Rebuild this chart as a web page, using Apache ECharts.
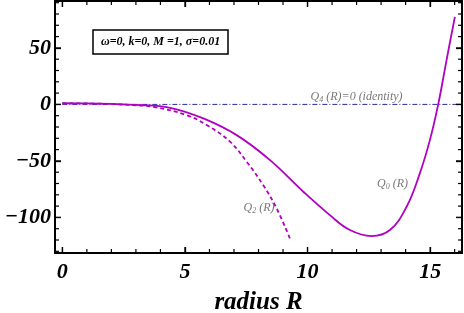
<!DOCTYPE html>
<html><head><meta charset="utf-8">
<script src="https://cdn.jsdelivr.net/npm/echarts@6/dist/echarts.min.js"></script>
<style>html,body{margin:0;padding:0;background:#fff}#c{width:464px;height:313px}</style>
</head><body><div id="c"></div>
<script>
// ---- data ----
const q0X = [0,1,2,3,4.39,5.75,7.11,8.47,9.83,10.91,11.73,12.61,13.36,14.04,14.58,14.99,15.33,15.67,16.01];
const q0Y = [1,0.9,0.4,-0.5,-3,-12.4,-27.2,-49.3,-77.3,-98,-111.2,-116.5,-111.2,-90.6,-61,-31.6,0,39.2,77.5];
const q2X = [0,1,2,3,3.71,5.07,5.89,6.84,7.52,8.19,8.74,9.28];
const q2Y = [1,0.8,0.3,-0.8,-2.1,-9.5,-18.3,-33,-50.8,-71.4,-92,-118.6];
const q4X = [0,16.2];
const q4Y = [0,0];
const xMajor = [0,5,10,15];
const xMinor = [1,2,3,4,6,7,8,9,11,12,13,14,16];
const yMajor = [-100,-50,0,50];
const yMinor = [-130,-120,-110,-90,-80,-70,-60,-40,-30,-20,-10,10,20,30,40,60,70,80,90];
const xRange = [-0.3,16.3];
const yRange = [-131.5,91.5];
const legendText = 'ω=0, k=0, M =1, σ=0.01';
const annQ4 = {pos:[12.0,6.7], sub:'4', rest:' (R)=0 (identity)'};
const annQ0 = {pos:[13.47,-70.5], sub:'0', rest:' (R)'};
const annQ2 = {pos:[8.02,-91.5], sub:'2', rest:' (R)'};

const zip = (a,b)=>a.map((v,i)=>[v,b[i]]);
const mag = '#b000c0';
const font = 'Liberation Serif';
const minus = v => String(v).replace('-', '\u2212');
const lblStyle = {color:'#000', fontFamily:font, fontStyle:'italic', fontWeight:'bold', fontSize:22, formatter:minus};
const G = {left:55, right:2, top:1, bottom:60};
const plotW = 464 - G.left - G.right, plotH = 313 - G.top - G.bottom;

function xAx(pos, label){
  return {type:'value', position:pos, min:xRange[0], max:xRange[1],
    axisLine:{show:true, onZero:false, lineStyle:{color:'#000', width:2}},
    axisTick:{show:true, inside:true, length:6, customValues:xMajor, lineStyle:{color:'#000', width:1.3}},
    axisLabel:Object.assign({show:label, customValues:xMajor, margin:8}, lblStyle),
    splitLine:{show:false}};
}
function yAx(pos, label){
  return {type:'value', position:pos, min:yRange[0], max:yRange[1],
    axisLine:{show:true, onZero:false, lineStyle:{color:'#000', width:2}},
    axisTick:{show:true, inside:true, length:6, customValues:yMajor, lineStyle:{color:'#000', width:1.3}},
    axisLabel:Object.assign({show:label, customValues:yMajor, margin:4}, lblStyle),
    splitLine:{show:false}};
}
const xA0 = xAx('bottom', true);
xA0.name = 'radius R'; xA0.nameLocation='middle'; xA0.nameGap=37;
xA0.nameTextStyle = {color:'#000', fontFamily:font, fontStyle:'italic', fontWeight:'bold', fontSize:25};

// inward frame ticks as short line segments, drawn through the axes' scales
const dxPx = (xRange[1]-xRange[0]) / plotW, dyPx = (yRange[1]-yRange[0]) / plotH;
function tickLines(vals, side, px){
  return vals.map(v => {
    let d;
    if (side === 'bottom') d = [[v, yRange[0]], [v, yRange[0] + px*dyPx]];
    if (side === 'top')    d = [[v, yRange[1]], [v, yRange[1] - px*dyPx]];
    if (side === 'left')   d = [[xRange[0], v], [xRange[0] + px*dxPx, v]];
    if (side === 'right')  d = [[xRange[1], v], [xRange[1] - px*dxPx, v]];
    return {type:'line', data:d, showSymbol:false, silent:true, clip:false, z:5,
      lineStyle:{color:'#000', width:1.2}};
  });
}

function ann(a){
  return {type:'scatter', symbolSize:0, silent:true, data:[a.pos],
    label:{show:true, position:'inside', formatter:'{q|Q}{s|'+a.sub+'}{t|'+a.rest+'}',
      rich:{q:{fontFamily:font, fontStyle:'italic', fontSize:12, color:'#555'},
            s:{fontFamily:font, fontStyle:'italic', fontSize:8, color:'#555', padding:[6,0,0,0]},
            t:{fontFamily:font, fontStyle:'italic', fontSize:12, color:'#555'}}}};
}

const chart = echarts.init(document.getElementById('c'));
chart.setOption({
  animation:false,
  grid:Object.assign({containLabel:false, outerBoundsMode:'none'}, G),
  title:{text:legendText, left:93, top:30, borderColor:'#000', borderWidth:1.5, padding:[6,8],
    textStyle:{fontFamily:font, fontStyle:'italic', fontWeight:'bold', fontSize:12, color:'#000'}},
  xAxis:[xA0, xAx('top', false)],
  yAxis:[yAx('left', true), yAx('right', false)],
  series:[
    {type:'line', data:zip(q4X,q4Y), showSymbol:false, lineStyle:{color:'#2a2a9a', width:1, type:[5,2,1,2]}},
    {type:'line', data:zip(q2X,q2Y), showSymbol:false, smooth:0.4, lineStyle:{color:mag, width:1.8, type:[4,3]}},
    {type:'line', data:zip(q0X,q0Y), showSymbol:false, smooth:0.4, lineStyle:{color:mag, width:1.8}},
    ...tickLines(xMajor,'bottom',6), ...tickLines(xMinor,'bottom',4),
    ...tickLines(xMajor,'top',6), ...tickLines(xMinor,'top',4),
    ...tickLines(yMajor,'left',6), ...tickLines(yMinor,'left',4),
    ...tickLines(yMajor,'right',6), ...tickLines(yMinor,'right',4),
    ann(annQ4), ann(annQ0), ann(annQ2)
  ]
});
</script></body></html>
